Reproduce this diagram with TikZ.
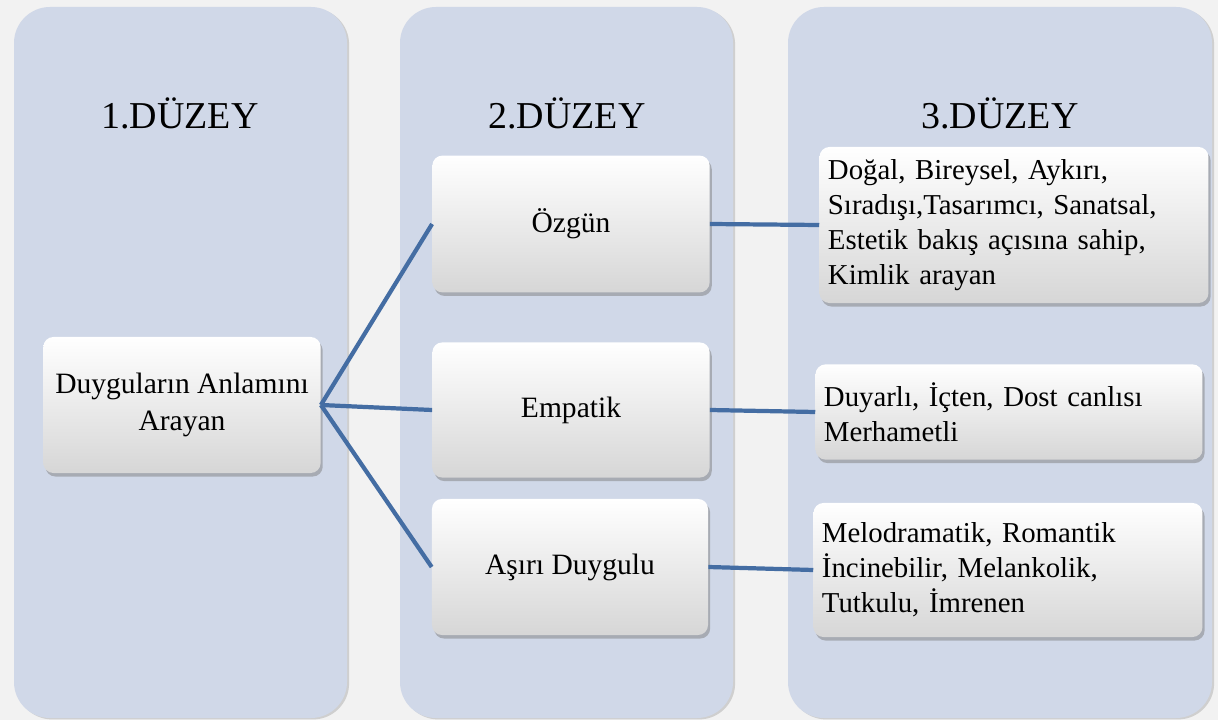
\documentclass[tikz,border=0pt]{standalone}
\usepackage{fontspec}
\setmainfont{Liberation Serif}
\usetikzlibrary{shadows}
\definecolor{pagegray}{HTML}{F2F2F2}
\definecolor{colfill}{HTML}{D0D8E8}
\definecolor{linkblue}{RGB}{68,109,163}
\tikzset{
  levelcol/.style={fill=colfill, rounded corners=0.9cm,
    drop shadow={shadow xshift=1.5pt, shadow yshift=-1pt, opacity=0.3}},
  levelhead/.style={font=\fontsize{27}{30}\selectfont},
  itembox/.style={rounded corners=0.25cm, align=center,
    top color=white, middle color=white, bottom color=black!16,
    drop shadow={shadow xshift=1.5pt, shadow yshift=-2.5pt, opacity=0.5},
    font=\fontsize{21}{26}\selectfont, inner sep=0pt},
  descbox/.style={itembox, align=left, inner xsep=6pt,
    font=\fontsize{20.5}{25}\selectfont},
  link/.style={draw=linkblue, line width=3pt}
}
\begin{document}
\begin{tikzpicture}[x=0.025cm, y=-0.025cm]
  \useasboundingbox[fill=pagegray] (0,0) rectangle (1218,720);
  % the three levels
  \path[levelcol] (14,7) rectangle (347,718);
  \path[levelcol] (400,7) rectangle (733,718);
  \path[levelcol] (788,7) rectangle (1212,718);
  \node[levelhead] (h1) at (180,113) {1.DÜZEY};
  \node[levelhead] (h2) at (567,113) {2.DÜZEY};
  \node[levelhead] (h3) at (1000,113) {3.DÜZEY};
  % boxes
  \node[itembox, minimum width=6.93cm, minimum height=3.4cm] (root) at (182,405)
    {Duyguların Anlamını\\Arayan};
  \node[itembox, minimum width=6.93cm, minimum height=3.42cm] (ozgun) at (571,224) {Özgün};
  \node[itembox, minimum width=6.93cm, minimum height=3.38cm] (empatik) at (571,410) {Empatik};
  \node[itembox, minimum width=6.9cm, minimum height=3.4cm] (asiri) at (570,567) {Aşırı Duygulu};
  \node[descbox, minimum width=9.6cm, minimum height=3.9cm, text width=9.3cm] (ozgund) at (1014,225)
    {Doğal, Bireysel, Aykırı,\\Sıradışı,Tasarımcı, Sanatsal,\\Estetik bakış açısına sahip,\\Kimlik arayan};
  \node[descbox, minimum width=9.55cm, minimum height=2.38cm, text width=9.25cm] (empatikd) at (1009,412)
    {Duyarlı, İçten, Dost canlısı\\Merhametli};
  \node[descbox, minimum width=9.6cm, minimum height=3.35cm, text width=9.3cm] (asirid) at (1008,570)
    {Melodramatik, Romantik\\İncinebilir, Melankolik,\\Tutkulu, İmrenen};
  % connectors
  \begin{scope}[link]
    \draw (root.east) -- (ozgun.west);
    \draw (root.east) -- (empatik.west);
    \draw (root.east) -- (asiri.west);
    \draw (ozgun.east) -- (ozgund.west);
    \draw (empatik.east) -- (empatikd.west);
    \draw (asiri.east) -- (asirid.west);
  \end{scope}
\end{tikzpicture}
\end{document}
